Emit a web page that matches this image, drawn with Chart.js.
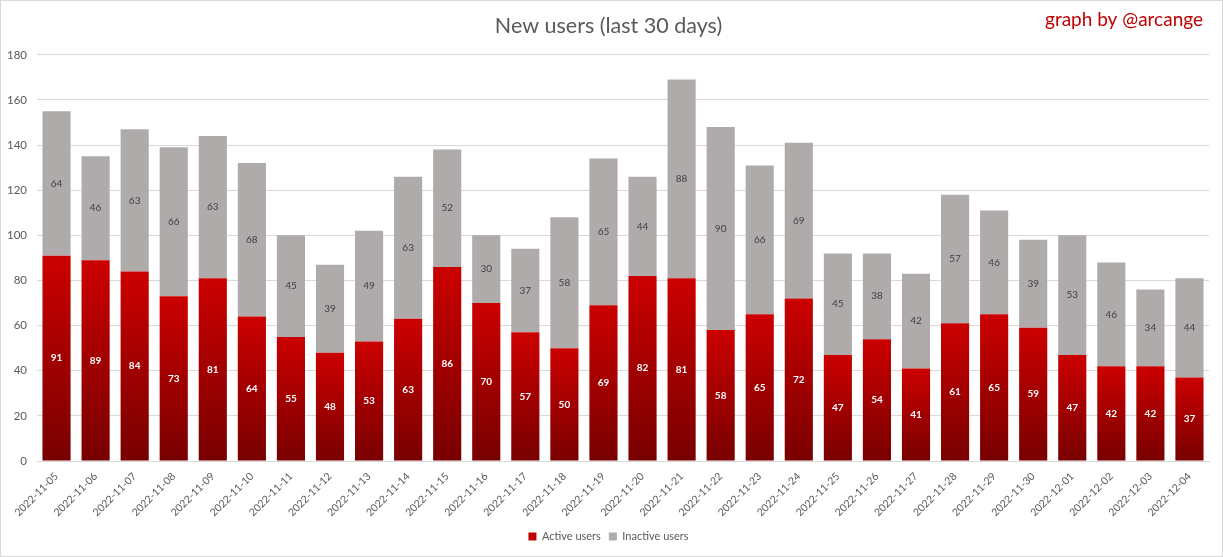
<!DOCTYPE html>
<html>
<head>
<meta charset="utf-8">
<script src="https://cdn.jsdelivr.net/npm/chart.js@4/dist/chart.umd.min.js"></script>
<style>
  html, body { margin: 0; padding: 0; background: #fff; }
  #wrap { width: 1221px; height: 555px; border: 1px solid #d9d9d9; }
</style>
</head>
<body>
<div id="wrap"><canvas id="myChart" width="1221" height="555"></canvas></div>
<script>
'use strict';

const days = ['2022-11-05', '2022-11-06', '2022-11-07', '2022-11-08', '2022-11-09', '2022-11-10',
  '2022-11-11', '2022-11-12', '2022-11-13', '2022-11-14', '2022-11-15', '2022-11-16',
  '2022-11-17', '2022-11-18', '2022-11-19', '2022-11-20', '2022-11-21', '2022-11-22',
  '2022-11-23', '2022-11-24', '2022-11-25', '2022-11-26', '2022-11-27', '2022-11-28',
  '2022-11-29', '2022-11-30', '2022-12-01', '2022-12-02', '2022-12-03', '2022-12-04'];
const activeUsers = [91, 89, 84, 73, 81, 64, 55, 48, 53, 63, 86, 70, 57, 50, 69, 82, 81, 58, 65, 72,
  47, 54, 41, 61, 65, 59, 47, 42, 42, 37];
const inactiveUsers = [64, 46, 63, 66, 63, 68, 45, 39, 49, 63, 52, 30, 37, 58, 65, 44, 88, 90, 66, 69,
  45, 38, 42, 57, 46, 39, 53, 46, 34, 44];

const fontName = 'Lato, "Open Sans", sans-serif';
const chartCanvas = document.getElementById('myChart');

function redGradient(ctx) {
  if (ctx.type !== 'data' || !ctx.chart.chartArea) return '#c00000';
  const yScale = ctx.chart.scales.y;
  const top = yScale.getPixelForValue(ctx.raw);
  const bottom = yScale.getPixelForValue(0);
  const g = ctx.chart.ctx.createLinearGradient(0, top, 0, bottom);
  g.addColorStop(0, '#cc0000');
  g.addColorStop(1, '#780000');
  return g;
}

// draws the value inside each bar segment
const barLabels = {
  id: 'barLabels',
  afterDatasetsDraw(chart) {
    const ctx = chart.ctx;
    ctx.save();
    ctx.textAlign = 'center';
    ctx.textBaseline = 'middle';
    chart.data.datasets.forEach((ds, i) => {
      const meta = chart.getDatasetMeta(i);
      ctx.font = (i === 0 ? 'bold ' : '') + '10px ' + fontName;
      ctx.fillStyle = i === 0 ? '#ffffff' : '#404040';
      meta.data.forEach((bar, j) => {
        const mid = (bar.y + bar.base) / 2;
        ctx.fillText(ds.data[j], bar.x, mid);
      });
    });
    ctx.restore();
  }
};

const signature = {
  id: 'signature',
  afterDraw(chart) {
    const ctx = chart.ctx;
    ctx.save();
    ctx.font = '19px ' + fontName;
    ctx.fillStyle = '#c00000';
    ctx.textAlign = 'right';
    ctx.textBaseline = 'middle';
    ctx.fillText('graph by @arcange', 1202, 19);
    ctx.restore();
  }
};

const legendSwatch = ['#c00000', '#afabab'];

new Chart(chartCanvas, {
  type: 'bar',
  data: {
    labels: days,
    datasets: [
      {
        label: 'Active users',
        data: activeUsers,
        backgroundColor: redGradient,
        barPercentage: 0.72,
        categoryPercentage: 1,
      },
      {
        label: 'Inactive users',
        data: inactiveUsers,
        backgroundColor: '#afabab',
        barPercentage: 0.72,
        categoryPercentage: 1,
      },
    ],
  },
  options: {
    responsive: false,
    animation: false,
    layout: { padding: { left: 7, right: 13, top: 0, bottom: 4 } },
    plugins: {
      title: {
        display: true,
        text: 'New users (last 30 days)',
        color: '#595959',
        font: { family: fontName, size: 21.5, weight: 'normal' },
        padding: { top: 12, bottom: 16 },
      },
      legend: {
        position: 'bottom',
        labels: {
          boxWidth: 8,
          boxHeight: 8,
          color: '#595959',
          font: { family: fontName, size: 11 },
          padding: 8,
          generateLabels(chart) {
            const items = Chart.defaults.plugins.legend.labels.generateLabels(chart);
            items.forEach((it, i) => {
              it.fillStyle = legendSwatch[i];
              it.strokeStyle = legendSwatch[i];
              it.lineWidth = 0;
            });
            return items;
          },
        },
      },
      tooltip: { enabled: false },
    },
    scales: {
      x: {
        stacked: true,
        grid: { display: false, drawTicks: false },
        border: { color: '#d9d9d9' },
        ticks: {
          color: '#595959',
          font: { family: fontName, size: 10.5 },
          maxRotation: 45,
          minRotation: 45,
          autoSkip: false,
          padding: 9,
        },
        afterFit(scale) {
          scale.paddingLeft = 0;
          scale.paddingRight = 0;
          scale.height = 62;
        },
      },
      y: {
        stacked: true,
        min: 0,
        max: 180,
        grid: { color: '#d9d9d9', drawTicks: false },
        border: { display: false },
        ticks: {
          stepSize: 20,
          color: '#595959',
          font: { family: fontName, size: 11.5 },
          padding: 10,
        },
        afterFit(scale) {
          scale.width = 29;
        },
      },
    },
  },
  plugins: [barLabels, signature],
});
</script>
</body>
</html>
